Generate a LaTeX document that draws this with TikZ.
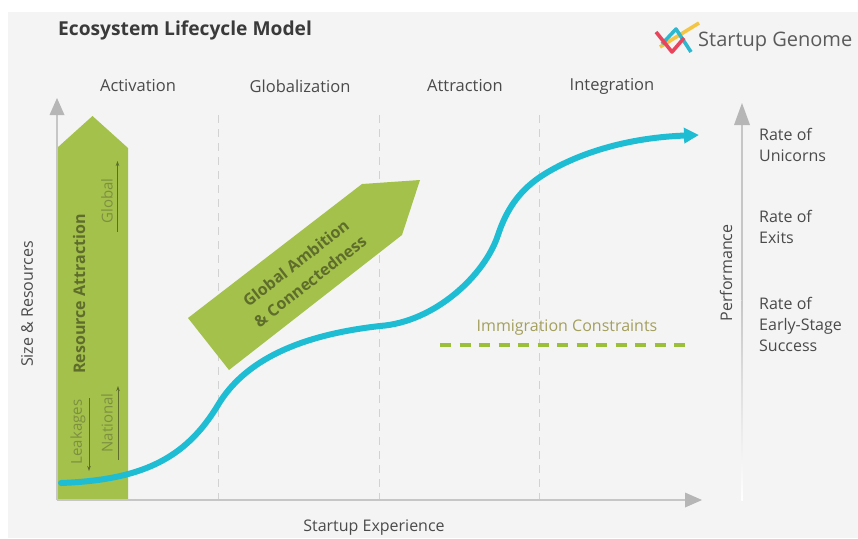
\documentclass[tikz,border=0pt]{standalone}
\usepackage{fontspec}
\setmainfont{Open Sans}
\usetikzlibrary{arrows.meta}
\definecolor{bg}{HTML}{F4F4F4}
\definecolor{axisc}{HTML}{C6C6C6}
\definecolor{axhead}{HTML}{B6B6B6}
\definecolor{leaf}{HTML}{A4C14B}
\definecolor{olive}{HTML}{5E6D2C}
\definecolor{olivelight}{HTML}{7D9040}
\definecolor{curvec}{HTML}{1FBDD3}
\definecolor{txt}{HTML}{4A4A4A}
\definecolor{titlec}{HTML}{3A3A3A}
\definecolor{khaki}{HTML}{A39F5E}
\definecolor{dashgreen}{HTML}{9CBF3A}
\definecolor{vdashc}{HTML}{D2D2D2}
\definecolor{logored}{HTML}{E8455C}
\definecolor{logocyan}{HTML}{2DB8D0}
\definecolor{logoyellow}{HTML}{F4C545}
\definecolor{logotext}{HTML}{5A5A5A}
\tikzset{
  lbl/.style={text=txt, inner sep=0pt, font=\fontsize{16}{21}\selectfont},
  phase/.style={lbl, font=\fontsize{16.5}{21}\selectfont},
  ratelbl/.style={lbl, anchor=west, align=left},
  vdash/.style={draw=vdashc, line width=0.9pt, dash pattern=on 8pt off 6pt},
  axisline/.style={draw=axisc, line width=1.5pt},
  head/.style={fill=axhead},
  greentext/.style={text=olive, inner sep=0pt, font=\fontsize{16}{22}\selectfont\bfseries},
  smalltext/.style={text=olivelight, inner sep=0pt, font=\fontsize{15}{18}\selectfont},
  mark arrow/.style={draw=olive, line width=0.9pt, -{Stealth[length=5pt,width=3.5pt]}},
  logoline/.style={line width=3.6pt, line join=round},
}
\begin{document}
\begin{tikzpicture}[x=1pt,y=-1pt]
\useasboundingbox (0,0) rectangle (858,538);
\fill[white] (0,0) rectangle (858,538);
\fill[bg] (8,12) rectangle (858,538);

% title and logo
\node[anchor=west, inner sep=0pt, text=titlec, font=\fontsize{19.2}{22}\selectfont\bfseries] (title) at (58,30) {Ecosystem Lifecycle Model};
\draw[logoline, logoyellow] (660,47) -- (699,23);
\draw[logoline, logocyan] (662,44) -- (676,29) -- (691,52);
\draw[logoline, logored] (656,32) -- (672,52) -- (684,38);
\node[anchor=west, inner sep=0pt, text=logotext, font=\fontsize{20}{22}\selectfont] (logo) at (698,42) {Startup Genome};

% phases
\node[phase] (act) at (138,86) {Activation};
\node[phase] (glo) at (300,86) {Globalization};
\node[phase] (att) at (465,86) {Attraction};
\node[phase] (int) at (612,86) {Integration};

% dashed separators
\draw[vdash] (218,115) -- (218,499);
\draw[vdash] (379,115) -- (379,499);
\draw[vdash] (539,115) -- (539,499);

% resource attraction arrow
\fill[leaf] (57,500) -- (57,148) -- (92.5,116) -- (128,148) -- (128,500) -- cycle;
\node[greentext, rotate=90] (ra) at (79,294) {Resource Attraction};
\node[smalltext, rotate=90] (glob) at (107,201) {Global};
\draw[mark arrow] (117.5,232) -- (117.5,161);
\node[smalltext, rotate=90] (nat) at (107,423) {National};
\draw[mark arrow] (118,460) -- (118,386);
\node[smalltext, rotate=90] (leak) at (78,432) {Leakages};
\draw[mark arrow] (89,398) -- (89,471);

% global ambition arrow
\fill[leaf] (188,318) -- (362,184) -- (420,180) -- (402,235) -- (229,370) -- cycle;
\node[greentext, rotate=38, align=center, font=\fontsize{16}{23}\selectfont\bfseries] (gac) at (303,272) {Global Ambition\\\& Connectedness};

% axes
\draw[axisline] (57,500) -- (57,113);
\fill[head] (57,98) -- (49.5,115) -- (64.5,115) -- cycle;
\draw[axisline] (57,500) -- (687,500);
\fill[head] (702,500) -- (685,492.5) -- (685,507.5) -- cycle;
\node[lbl, rotate=90] (ylab) at (27,304) {Size \& Resources};
\node[lbl] (xlab) at (374,528) {Startup Experience};

% performance axis
\draw[axisline] (742,300) -- (742,122);
\shade[top color=axisc, bottom color=white] (741.25,300) rectangle (742.75,500);
\fill[head] (742,103) -- (734,125) -- (750,125) -- cycle;
\node[lbl, rotate=90] (perf) at (726,273) {Performance};
\node[ratelbl] (uni) at (759,145) {Rate of\\Unicorns};
\node[ratelbl] (exi) at (759,227) {Rate of\\Exits};
\node[ratelbl] (early) at (759,324) {Rate of\\Early-Stage\\Success};

% immigration constraints
\node[lbl, text=khaki] (imm) at (567,328) {Immigration Constraints};
\draw[dashgreen, line width=4pt, dash pattern=on 11pt off 8.5pt] (440,345) -- (693,345);

% lifecycle curve
\draw[curvec, line width=6pt, line cap=round, -{Triangle[length=15pt,width=15pt]}]
  (61,483) .. controls (140,480) and (185,460) .. (218,405)
  .. controls (245,360) and (300,335) .. (380,326)
  .. controls (435,322) and (485,275) .. (498,235)
  .. controls (506,211) and (518,192) .. (540,177)
  .. controls (570,157) and (620,138) .. (699,135);
\end{tikzpicture}
\end{document}
